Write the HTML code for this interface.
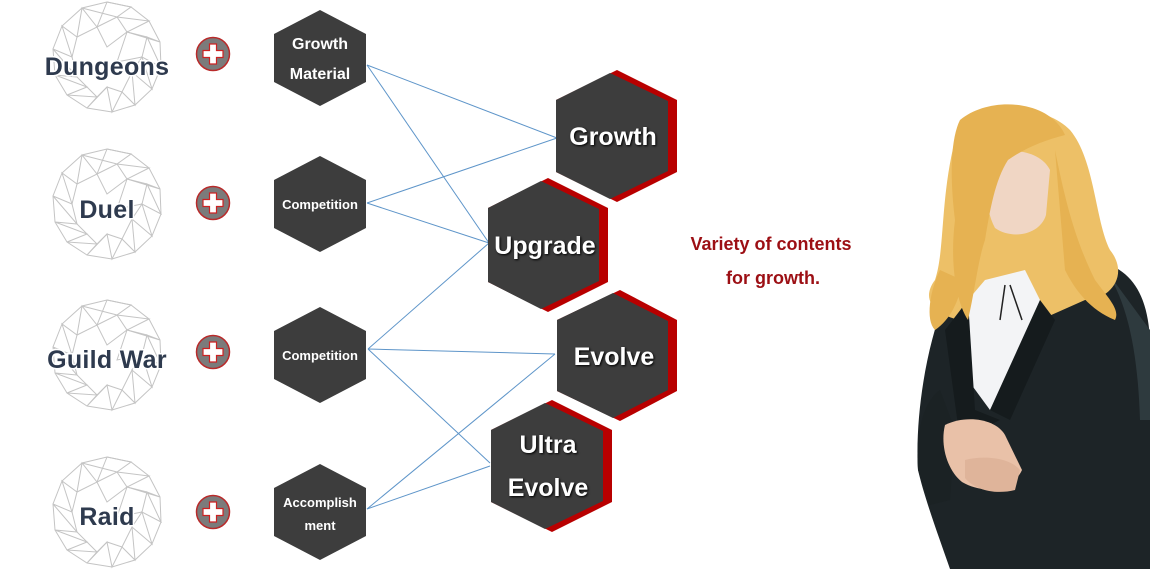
<!DOCTYPE html>
<html><head><meta charset="utf-8"><style>
html,body{margin:0;padding:0;background:#fff;width:1150px;height:569px;overflow:hidden}
svg{display:block}
.lbl{font-family:"Liberation Sans",sans-serif;font-weight:bold;fill:#2e3a4e;stroke:#fff;stroke-width:3;paint-order:stroke;font-size:25px;letter-spacing:0.3px}
.wt{font-family:"Liberation Sans",sans-serif;font-weight:bold;fill:#fff}
.big{font-size:25px;filter:drop-shadow(1px 1px 1px #000)}
.red{font-family:"Liberation Sans",sans-serif;font-weight:bold;fill:#9c0f14;font-size:18px}
</style></head><body>
<svg width="1150" height="569" viewBox="0 0 1150 569" xmlns="http://www.w3.org/2000/svg">
<defs>
<g id="wire" fill="none" stroke="#c4c4c4" stroke-width="1">
<polygon points="0,-55 24,-50 42,-36 53,-15 54,10 45,32 28,48 5,55 -20,51 -40,38 -52,18 -54,-8 -45,-31 -25,-49"/>
<polyline points="0,-55 -10,-30 -25,-49 -30,-20 -45,-31 -35,0 -54,-8 -30,20 -52,18 -20,30 -40,38 -10,40 -20,51 0,30 5,55 15,35 28,48 25,15 45,32 35,0 54,10 40,-20 53,-15 20,-25 42,-36 10,-40 24,-50 0,-55"/>
<polyline points="-10,-30 10,-40 20,-25 40,-20 35,0 25,15 15,35 0,30 -10,40 -20,30 -30,20 -35,0 -30,-20 -10,-30 0,-10 20,-25 10,5 35,0 M0,-10 -30,-20 M0,-10 -35,0 -5,12 0,30 M10,5 25,15 M-5,12 10,5 0,-10 M-5,12 -20,30 M10,5 15,35"/>
<polyline points="-25,-49 10,-40 M-45,-31 -10,-30 M-54,-8 -30,-20 M-52,18 -35,0 M-40,38 -30,20 M5,55 -10,40 M28,48 0,30 M45,32 15,35 M54,10 25,15 M53,-15 35,0 M42,-36 40,-20 M24,-50 20,-25"/>
</g>
<g id="plus">
<circle r="16.5" fill="#7b7b7b" stroke="#b92a2a" stroke-width="1.5"/>
<path d="M-3.5,-10h7v6.5h6.5v7h-6.5v6.5h-7v-6.5h-6.5v-7h6.5z" fill="#fff" stroke="#c22" stroke-width="1.2"/>
</g>
<polygon id="sh" points="0,-48 46,-24 46,24 0,48 -46,24 -46,-24" fill="#3d3d3d"/>
</defs>

<use href="#wire" x="107" y="57"/>
<use href="#wire" x="107" y="204"/>
<use href="#wire" x="107" y="355"/>
<use href="#wire" x="107" y="512"/>
<text class="lbl" x="107" y="75" text-anchor="middle">Dungeons</text>
<text class="lbl" x="107" y="218" text-anchor="middle">Duel</text>
<text class="lbl" x="107" y="368" text-anchor="middle">Guild War</text>
<text class="lbl" x="107" y="525" text-anchor="middle">Raid</text>

<use href="#plus" x="213" y="54"/>
<use href="#plus" x="213" y="203"/>
<use href="#plus" x="213" y="352"/>
<use href="#plus" x="213" y="512"/>

<use href="#sh" x="320" y="58"/>
<use href="#sh" x="320" y="204"/>
<use href="#sh" x="320" y="355"/>
<use href="#sh" x="320" y="512"/>
<text class="wt" x="320" y="49" font-size="16" text-anchor="middle">Growth</text>
<text class="wt" x="320" y="79" font-size="16" text-anchor="middle">Material</text>
<text class="wt" x="320" y="209" font-size="13" text-anchor="middle">Competition</text>
<text class="wt" x="320" y="360" font-size="13" text-anchor="middle">Competition</text>
<text class="wt" x="320" y="507" font-size="13" text-anchor="middle">Accomplish</text>
<text class="wt" x="320" y="530" font-size="13" text-anchor="middle">ment</text>

<g stroke="#5e95c9" stroke-width="1" fill="none">
<line x1="367" y1="65" x2="557" y2="138"/>
<line x1="367" y1="65" x2="489" y2="243"/>
<line x1="367" y1="203" x2="557" y2="138"/>
<line x1="367" y1="203" x2="489" y2="243"/>
<line x1="368" y1="349" x2="489" y2="243"/>
<line x1="368" y1="349" x2="555" y2="354"/>
<line x1="368" y1="349" x2="490" y2="463"/>
<line x1="367" y1="509" x2="555" y2="354"/>
<line x1="367" y1="509" x2="490" y2="466"/>
</g>

<g>
<polygon points="617,70 677,100 677,172 617,202 556,172 556,100" fill="#b80000"/>
<polygon points="610,73 668,101 668,171 610,199 556,172 556,100" fill="#3d3d3d"/>
<polygon points="548,178 608,208 608,282 548,312 488,282 488,208" fill="#b80000"/>
<polygon points="541,181 599,209 599,281 541,309 488,282 488,208" fill="#3d3d3d"/>
<polygon points="620,290 677,320 677,391 620,421 557,391 557,320" fill="#b80000"/>
<polygon points="613,293 668,321 668,390 613,418 557,391 557,320" fill="#3d3d3d"/>
<polygon points="552,400 612,430 612,502 552,532 491,502 491,430" fill="#b80000"/>
<polygon points="545,403 603,431 603,501 545,529 491,502 491,430" fill="#3d3d3d"/>
</g>
<text class="wt big" x="613" y="145" text-anchor="middle">Growth</text>
<text class="wt big" x="545" y="254" text-anchor="middle">Upgrade</text>
<text class="wt big" x="614" y="365" text-anchor="middle">Evolve</text>
<text class="wt big" x="548" y="453" text-anchor="middle">Ultra</text>
<text class="wt big" x="548" y="496" text-anchor="middle">Evolve</text>

<text class="red" x="771" y="250" text-anchor="middle">Variety of contents</text>
<text class="red" x="773" y="284" text-anchor="middle">for growth.</text>

<!-- character -->
<g>
<!-- suit -->
<path d="M945,300 L1020,280 L1100,262 C1135,270 1148,300 1150,340 L1150,569 L950,569 C940,540 925,500 918,470 C915,420 925,350 945,300 Z" fill="#1d2427"/>
<path d="M1100,262 C1130,300 1138,360 1140,420 L1150,420 L1150,330 Z" fill="#2e3a3e"/>
<!-- hair back -->
<path d="M955,140 C975,105 1040,100 1070,130 C1095,160 1095,220 1110,250 C1130,275 1110,300 1085,300 L1040,320 L1000,310 L960,320 C935,315 920,300 935,280 C945,250 940,200 955,140 Z" fill="#edc067"/>
<!-- shirt -->
<path d="M985,280 L1025,270 L1040,300 L1015,370 L990,410 L968,380 L968,300 Z" fill="#f3f4f6"/>
<path d="M1005,285 L1000,320 M1010,285 L1022,320" stroke="#222" stroke-width="1.5" fill="none"/>
<!-- lapels -->
<path d="M968,300 L975,410 L1000,420 L960,440 L945,330 Z" fill="#151b1d"/>
<path d="M1040,300 L1055,320 L1010,420 L990,410 Z" fill="#151b1d"/>
<!-- face -->
<path d="M990,160 C1005,145 1040,150 1050,170 L1046,215 C1040,235 1012,240 995,228 C985,210 984,180 990,160 Z" fill="#f0d6c4"/>
<!-- hair front -->
<path d="M960,120 C990,95 1050,100 1065,135 C1045,140 1025,148 1008,160 C995,180 990,210 985,240 C978,260 975,290 968,320 C955,300 950,260 955,220 C950,180 950,140 960,120 Z" fill="#e6b252"/>
<path d="M1055,150 C1065,200 1075,240 1095,280 C1110,300 1120,310 1115,320 C1090,310 1075,290 1065,270 Z" fill="#e6b252"/>
<path d="M940,270 C930,290 925,320 935,330 C950,320 960,300 962,280 Z" fill="#e6b252"/>
<!-- sleeve/hands -->
<path d="M918,470 C915,430 925,400 940,390 L955,430 L950,500 L930,505 Z" fill="#1b2224"/>
<path d="M945,425 C965,415 995,418 1005,435 L1022,470 C1012,492 982,494 962,482 C947,470 940,445 945,425 Z" fill="#e9c1a8"/>
<path d="M965,460 C985,455 1010,458 1020,470 L1015,490 C995,495 975,490 965,478 Z" fill="#dfb49a"/>
</g>
</svg>
</body></html>
